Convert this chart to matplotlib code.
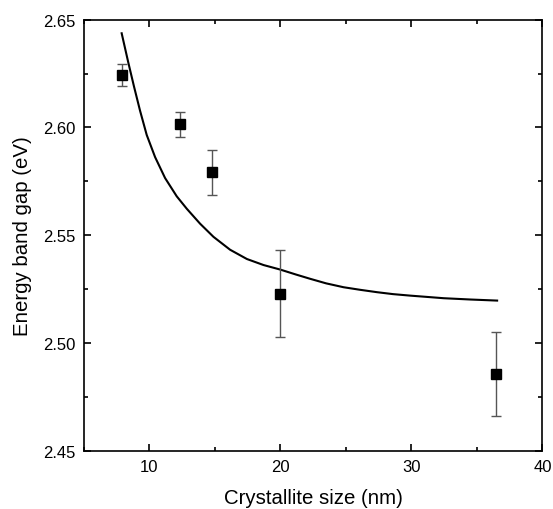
import matplotlib
matplotlib.use("Agg")
import matplotlib.pyplot as plt
from matplotlib.ticker import MultipleLocator

plt.rcParams['font.family'] = ['Liberation Sans', 'DejaVu Sans']

# Measured data
size_nm = [7.92, 12.39, 14.81, 20.0, 36.47]
band_gap = [2.6243, 2.6015, 2.5792, 2.5227, 2.4856]
gap_err = [0.0050, 0.0058, 0.0105, 0.0202, 0.0196]

# Fitted curve
fit_size = [7.91, 8.42, 8.85, 9.31, 9.82, 10.46, 11.22, 12.11, 12.88,
            13.89, 14.91, 16.18, 17.46, 18.73, 20.0, 21.2, 22.29, 23.5,
            24.83, 26.1, 27.38, 28.6, 29.92, 31.2, 32.47, 34.5, 36.54]
fit_gap = [2.6437, 2.6300, 2.6190, 2.6078, 2.5965, 2.5862, 2.5765, 2.5680,
           2.5622, 2.5553, 2.5492, 2.5432, 2.5389, 2.5361, 2.5340, 2.5317,
           2.5297, 2.5276, 2.5258, 2.5246, 2.5235, 2.5226, 2.5219, 2.5213,
           2.5207, 2.5201, 2.5196]

x_ticks = [10, 20, 30, 40]
y_ticks = [2.45, 2.50, 2.55, 2.60, 2.65]

fig = plt.figure(figsize=(5.53, 5.10), dpi=100)
ax = fig.add_axes([0.151, 0.1147, 0.830, 0.8447])

ax.plot(fit_size, fit_gap, color='black', lw=1.5, zorder=2,
        solid_joinstyle='round')
ax.errorbar(size_nm, band_gap, yerr=gap_err, fmt='s', color='black',
            ms=6.5, ecolor='#555555', elinewidth=1.0, capsize=3.5,
            capthick=1.0, zorder=3)

ax.set_xlim(5, 40)
ax.set_ylim(2.45, 2.65)
ax.set_xticks(x_ticks)
ax.set_yticks(y_ticks)
ax.set_yticklabels([f"{v:.2f}" for v in y_ticks])
ax.xaxis.set_minor_locator(MultipleLocator(5))
ax.yaxis.set_minor_locator(MultipleLocator(0.025))
ax.tick_params(which='both', direction='in', top=True, right=True,
               labelsize=12, width=1.2)
ax.tick_params(which='major', length=5, pad=6)
ax.tick_params(which='minor', length=3)
for s in ax.spines.values():
    s.set_linewidth(1.2)

ax.set_xlabel('Crystallite size (nm)', fontsize=14.7, labelpad=10)
ax.set_ylabel('Energy band gap (eV)', fontsize=14.7, labelpad=8)

fig.savefig('out.png', dpi=100)
